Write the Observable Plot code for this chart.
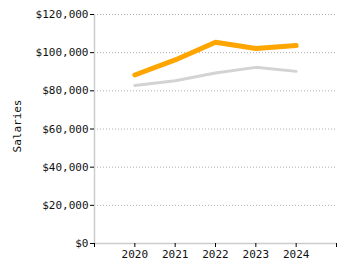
<!DOCTYPE html>
<html>
<head>
<meta charset="utf-8">
<script src="https://cdn.jsdelivr.net/npm/d3@7"></script>
<script src="https://cdn.jsdelivr.net/npm/@observablehq/plot@0.6"></script>
<style>
  html, body { margin: 0; padding: 0; background: #fff; }
  #chart svg { display: block; }
</style>
</head>
<body>
<div id="chart"></div>
<script>
const years = [2020, 2021, 2022, 2023, 2024];
const salariesA = [88300, 96200, 105500, 102200, 103800];
const salariesB = [82800, 85300, 89300, 92300, 90200];
const yTicks = [0, 20000, 40000, 60000, 80000, 100000, 120000];
const xTicks = [2019, 2020, 2021, 2022, 2023, 2024, 2025];
const yLabel = "Salaries";

const dataA = years.map((y, i) => ({year: y, value: salariesA[i]}));
const dataB = years.map((y, i) => ({year: y, value: salariesB[i]}));

const fmt = d3.format("$,");

const chart = Plot.plot({
  width: 350,
  height: 275,
  marginLeft: 94,
  marginRight: 14,
  marginTop: 14,
  marginBottom: 32,
  style: {fontFamily: "'DejaVu Sans Mono', monospace", fontSize: "11px", color: "#111", background: "#fff"},
  x: {domain: [2019, 2025]},
  y: {domain: [0, 120000]},
  marks: [
    Plot.gridY(yTicks, {stroke: "#aaa", strokeOpacity: 1, strokeDasharray: "1,2"}),
    Plot.ruleX([2019], {stroke: "#ccc", strokeWidth: 1.5}),
    Plot.ruleY([0], {stroke: "#ccc", strokeWidth: 1.5}),
    Plot.axisY(yTicks, {tickFormat: fmt, tickSize: 4, tickPadding: 2, stroke: "#000", label: null}),
    Plot.axisX(xTicks, {tickFormat: d => (d === 2019 || d === 2025) ? "" : String(d),
      tickSize: 4, tickPadding: 3, stroke: "#000", label: null}),
    Plot.text([yLabel], {text: d => d, frameAnchor: "left", textAnchor: "middle", rotate: -90,
      dx: -77, dy: -3, fontSize: 11, fill: "#111"}),
    Plot.line(dataB, {x: "year", y: "value", stroke: "#d3d3d3", strokeWidth: 3}),
    Plot.line(dataA, {x: "year", y: "value", stroke: "#ffa500", strokeWidth: 5})
  ]
});
document.getElementById("chart").appendChild(chart);
</script>
</body>
</html>
